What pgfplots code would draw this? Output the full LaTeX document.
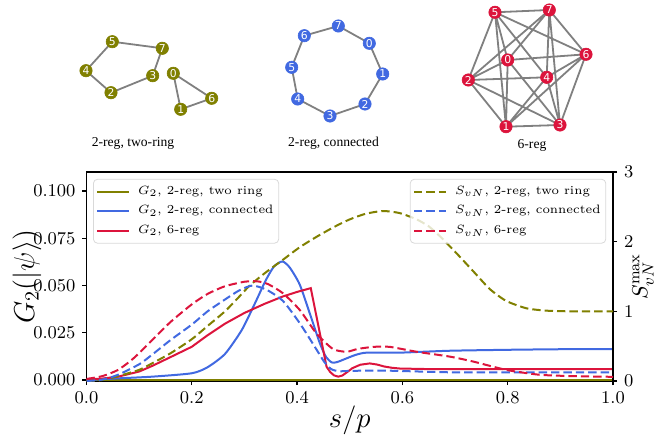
\documentclass[border=0pt]{standalone}
\usepackage{fontspec}
\usepackage{pgfplots}
\pgfplotsset{compat=1.18}
\newfontfamily\timesf{Liberation Serif}
\newfontfamily\dejavu{DejaVu Sans}
\definecolor{olv}{HTML}{808000}
\definecolor{rblue}{HTML}{4169E1}
\definecolor{crim}{HTML}{DC143C}
\definecolor{edgegray}{HTML}{808080}

\pgfplotstableread{
x y lab
112.3 41.7 5
162.3 48.3 7
86.0 70.7 4
152.7 75.7 3
111.0 92.7 2
173.3 73.3 0
211.7 98.3 6
180.7 109.3 1
}\nodesA
\pgfplotstableread{
x y lab
338.3 26.0 7
369.3 43.3 0
304.3 35.7 6
291.7 67.3 5
382.7 74.0 1
297.7 99.0 4
365.0 104.0 2
330.0 116.0 3
}\nodesB
\pgfplotstableread{
x y lab
507.7 60.0 0
506.0 126.7 1
468.3 80.0 2
560.0 125.0 3
546.7 77.3 4
495.0 12.3 5
586.0 54.3 6
549.3 10.0 7
}\nodesC

\begin{document}
\begin{tikzpicture}
\useasboundingbox (0,0) rectangle (327pt,220.5pt);
% ---------- graph drawings ----------
\begin{axis}[at={(0pt,0pt)}, anchor=south west, scale only axis,
  width=327pt, height=220.5pt, xmin=0, xmax=654, ymin=0, ymax=441,
  y dir=reverse, axis lines=none, clip=false, unbounded coords=jump]
\addplot[edgegray, line width=0.9pt] coordinates {
 (112.3,41.7) (162.3,48.3) (nan,nan)
 (112.3,41.7) (86.0,70.7) (nan,nan)
 (86.0,70.7) (111.0,92.7) (nan,nan)
 (111.0,92.7) (152.7,75.7) (nan,nan)
 (152.7,75.7) (162.3,48.3) (nan,nan)
 (173.3,73.3) (211.7,98.3) (nan,nan)
 (211.7,98.3) (180.7,109.3) (nan,nan)
 (180.7,109.3) (173.3,73.3)
};
\addplot[edgegray, line width=0.9pt] coordinates {
 (338.3,26.0) (369.3,43.3) (382.7,74.0) (365.0,104.0) (330.0,116.0)
 (297.7,99.0) (291.7,67.3) (304.3,35.7) (338.3,26.0)
};
\addplot[edgegray, line width=0.9pt] coordinates {
 (507.7,60.0) (506.0,126.7) (nan,nan)
 (507.7,60.0) (468.3,80.0) (nan,nan)
 (507.7,60.0) (560.0,125.0) (nan,nan)
 (507.7,60.0) (495.0,12.3) (nan,nan)
 (507.7,60.0) (586.0,54.3) (nan,nan)
 (507.7,60.0) (549.3,10.0) (nan,nan)
 (506.0,126.7) (468.3,80.0) (nan,nan)
 (506.0,126.7) (560.0,125.0) (nan,nan)
 (506.0,126.7) (546.7,77.3) (nan,nan)
 (506.0,126.7) (495.0,12.3) (nan,nan)
 (506.0,126.7) (586.0,54.3) (nan,nan)
 (468.3,80.0) (560.0,125.0) (nan,nan)
 (468.3,80.0) (546.7,77.3) (nan,nan)
 (468.3,80.0) (495.0,12.3) (nan,nan)
 (468.3,80.0) (549.3,10.0) (nan,nan)
 (560.0,125.0) (546.7,77.3) (nan,nan)
 (560.0,125.0) (586.0,54.3) (nan,nan)
 (560.0,125.0) (549.3,10.0) (nan,nan)
 (546.7,77.3) (495.0,12.3) (nan,nan)
 (546.7,77.3) (586.0,54.3) (nan,nan)
 (546.7,77.3) (549.3,10.0) (nan,nan)
 (495.0,12.3) (586.0,54.3) (nan,nan)
 (495.0,12.3) (549.3,10.0) (nan,nan)
 (586.0,54.3) (549.3,10.0)
};
\pgfplotsset{gnodes/.style={color=#1, only marks, mark=*, mark size=3.1pt,
  mark options={draw=#1, fill=#1, line width=0.3pt}, nodes near coords,
  point meta=explicit symbolic,
  nodes near coords style={anchor=center, inner sep=0pt, text=white,
    font=\dejavu\fontsize{5.4}{6}\selectfont}}}
\addplot[gnodes=olv] table[x=x, y=y, meta=lab] {\nodesA};
\addplot[gnodes=rblue] table[x=x, y=y, meta=lab] {\nodesB};
\addplot[gnodes=crim] table[x=x, y=y, meta=lab] {\nodesC};
\node[font=\timesf\fontsize{6.8}{7}\selectfont] at (axis cs:133,143) {2-reg, two-ring};
\node[font=\timesf\fontsize{6.8}{7}\selectfont] at (axis cs:333.5,143) {2-reg, connected};
\node[font=\timesf\fontsize{6.8}{7}\selectfont] at (axis cs:532,145) {6-reg};
\end{axis}

% ---------- main plot, left axis ----------
\pgfplotsset{mainax/.style={at={(43.25pt,30pt)}, anchor=south west,
  scale only axis, width=263.25pt, height=104.5pt, xmin=0, xmax=1,
  tick align=outside, major tick length=2pt,
  tick style={black, line width=0.6pt},
  axis line style={line width=0.8pt},
  tick label style={font=\fontsize{8.8}{10}\selectfont},
  legend cell align=left,
  legend style={draw=black!15, rounded corners=2pt, fill=white,
    fill opacity=0.8, text opacity=1,
    font=\fontsize{6.1}{7}\selectfont, row sep=2.4pt, column sep=0pt,
    nodes={inner xsep=1.2pt, inner ysep=0.9pt},
    /tikz/every odd column/.append style={column sep=2.8pt},
    inner xsep=1.4pt, inner ysep=2.4pt},
  legend image code/.code={\draw[#1] (0pt,0pt) -- (16pt,0pt);}}}
\begin{axis}[mainax,
  ymin=-0.0005, ymax=0.11,
  xtick={0,0.2,0.4,0.6,0.8,1}, xtick pos=left, ytick pos=left,
  ytick={0,0.025,0.05,0.075,0.1}, scaled y ticks=false,
  xticklabel style={/pgf/number format/.cd, fixed, fixed zerofill, precision=1},
  yticklabel style={/pgf/number format/.cd, fixed, fixed zerofill, precision=3},
  xlabel={$s/p$}, ylabel={$G_2(|\psi\rangle)$},
  xlabel style={font=\fontsize{15}{16}\selectfont, at={(axis description cs:0.5,-0.19)}, anchor=center},
  ylabel style={font=\fontsize{14}{15}\selectfont, at={(axis description cs:-0.113,0.5)}, anchor=center},
  legend style={at={(axis description cs:0.0124,0.967)}, anchor=north west},
  every axis plot/.append style={line width=1pt}]
\addplot[olv] coordinates {(0,0) (0.5,0) (1,0)};
\addlegendentry{$G_2$, 2-reg, two ring}
\addplot[rblue, smooth, tension=0.4] coordinates {
 (0,0) (0.06,0.0009) (0.125,0.0018) (0.2,0.0036) (0.23,0.0068) (0.263,0.0138)
 (0.295,0.0265) (0.32,0.0406) (0.34,0.0525) (0.356,0.0600) (0.372,0.0627)
 (0.386,0.0595) (0.405,0.0505) (0.424,0.0353) (0.443,0.0196) (0.455,0.0122)
 (0.466,0.0093) (0.476,0.0095) (0.488,0.0108) (0.51,0.0132) (0.532,0.0145)
 (0.595,0.0145) (0.69,0.0155) (0.8,0.016) (0.9,0.0163) (1.0,0.0164)};
\addlegendentry{$G_2$, 2-reg, connected}
\addplot[crim] coordinates {
 (0,0.0003) (0.03,0.0008) (0.06,0.0018) (0.1,0.0045) (0.125,0.0075) (0.16,0.0122)
 (0.2,0.0176) (0.23,0.0237) (0.263,0.0298) (0.3,0.0355) (0.339,0.0404)
 (0.373,0.0442) (0.4,0.0466) (0.426,0.0486) (0.456,0.0070) (0.463,0.0042)
 (0.470,0.0025) (0.478,0.0018) (0.486,0.0024) (0.495,0.0042) (0.505,0.0063)
 (0.52,0.0081) (0.538,0.0088) (0.552,0.0082) (0.565,0.0072) (0.58,0.0065)
 (0.595,0.0061) (0.65,0.0058) (0.8,0.0058) (1.0,0.0058)};
\addlegendentry{$G_2$, 6-reg}
\end{axis}

% ---------- main plot, right axis ----------
\begin{axis}[mainax,
  ymin=0, ymax=3, hide x axis, axis y line*=right,
  ytick={0,1,2,3},
  ylabel={$S_{vN}^{\max}$},
  ylabel style={font=\fontsize{11}{12}\selectfont, at={(axis description cs:1.057,0.5)}, anchor=center},
  legend style={at={(axis description cs:0.987,0.967)}, anchor=north east},
  every axis plot/.append style={line width=1pt, dash pattern=on 4.2pt off 2pt}]
\addplot[olv, smooth, tension=0.4] coordinates {
 (0,0) (0.03,0.015) (0.06,0.07) (0.1,0.16) (0.125,0.255) (0.16,0.40) (0.2,0.60)
 (0.23,0.79) (0.263,1.0) (0.29,1.21) (0.31,1.37) (0.339,1.55) (0.373,1.74)
 (0.405,1.92) (0.437,2.07) (0.47,2.21) (0.5,2.32) (0.53,2.40) (0.563,2.44)
 (0.595,2.41) (0.627,2.32) (0.65,2.22) (0.671,2.08) (0.702,1.84) (0.734,1.58)
 (0.766,1.32) (0.797,1.15) (0.835,1.045) (0.873,1.01) (0.92,1.0) (1.0,1.0)};
\addlegendentry{$S_{vN}$, 2-reg, two ring}
\addplot[rblue, smooth, tension=0.4] coordinates {
 (0,0) (0.03,0.02) (0.06,0.09) (0.1,0.24) (0.125,0.38) (0.16,0.59) (0.2,0.81)
 (0.23,1.0) (0.263,1.17) (0.29,1.30) (0.315,1.37) (0.342,1.31) (0.373,1.15)
 (0.405,0.83) (0.437,0.45) (0.452,0.27) (0.465,0.17) (0.48,0.14) (0.5,0.145)
 (0.563,0.15) (0.69,0.125) (0.8,0.125) (1.0,0.125)};
\addlegendentry{$S_{vN}$, 2-reg, connected}
\addplot[crim, smooth, tension=0.4] coordinates {
 (0,0.03) (0.03,0.07) (0.06,0.16) (0.09,0.33) (0.125,0.59) (0.16,0.85) (0.2,1.10)
 (0.23,1.25) (0.263,1.36) (0.3,1.425) (0.325,1.43) (0.345,1.39) (0.373,1.26)
 (0.405,1.02) (0.437,0.68) (0.468,0.46) (0.494,0.42) (0.515,0.46) (0.545,0.49)
 (0.576,0.49) (0.627,0.42) (0.69,0.35) (0.734,0.28) (0.797,0.16) (0.86,0.09)
 (0.924,0.07) (1.0,0.06)};
\addlegendentry{$S_{vN}$, 6-reg}
\end{axis}
\end{tikzpicture}
\end{document}
